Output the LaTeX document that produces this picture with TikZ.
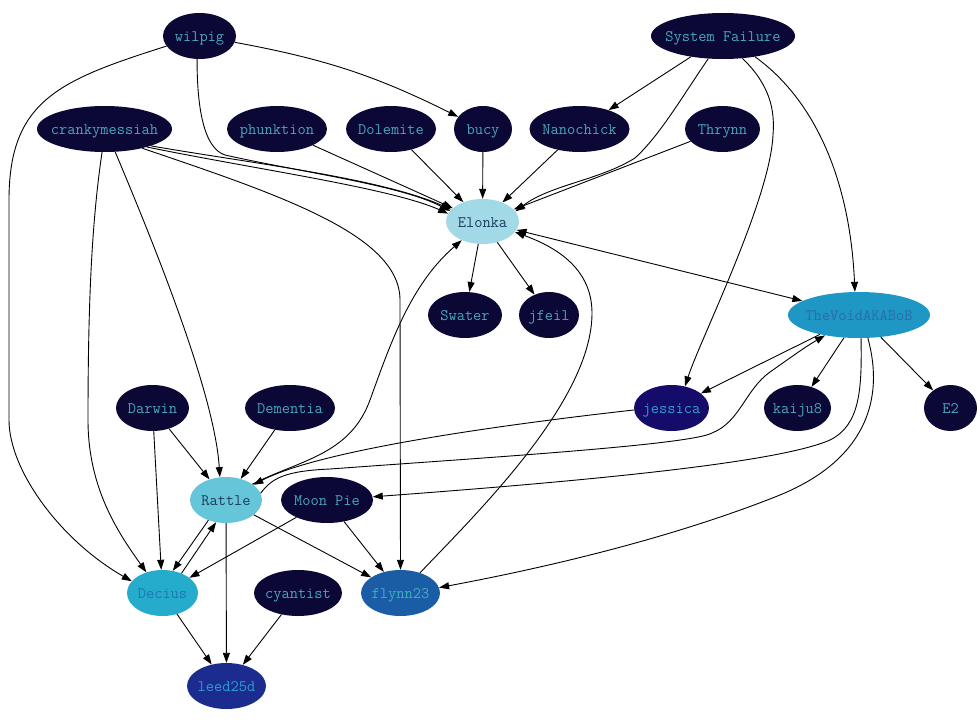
\documentclass[tikz,border=0pt]{standalone}
\usetikzlibrary{shapes.geometric,arrows.meta}
\definecolor{dk}{HTML}{0B0835}
\definecolor{dktx}{HTML}{4AA6BE}
\definecolor{elfill}{HTML}{A1DAE6}
\definecolor{eltx}{HTML}{1C3C5C}
\definecolor{rafill}{HTML}{66C6D9}
\definecolor{ratx}{HTML}{1C3C5C}
\definecolor{defill}{HTML}{25ABCC}
\definecolor{detx}{HTML}{1C78B0}
\definecolor{tvfill}{HTML}{1E97C4}
\definecolor{tvtx}{HTML}{2A6CAC}
\definecolor{jefill}{HTML}{150B6B}
\definecolor{jetx}{HTML}{30A0CC}
\definecolor{flfill}{HTML}{1B5CA7}
\definecolor{fltx}{HTML}{40B0C0}
\definecolor{lefill}{HTML}{1C2C8E}
\definecolor{letx}{HTML}{2A9FD4}
\newcommand{\lbl}[1]{\makebox[0pt]{\raisebox{-5.5pt}[0pt][0pt]{#1}}}
\tikzset{
  nd/.style={ellipse, inner sep=0pt, minimum height=46pt, font=\fontsize{16}{19}\selectfont\ttfamily},
  dark/.style={nd, fill=dk, text=dktx},
  e/.style={-{Triangle[length=10pt,width=7pt]}, line width=0.9pt, black},
  eb/.style={{Triangle[length=10pt,width=7pt]}-{Triangle[length=10pt,width=7pt]}, line width=0.9pt, black}
}
\begin{document}
\begin{tikzpicture}[x=1pt,y=-1pt]
\fill[white] (0,0) rectangle (980,720);
\useasboundingbox (0,0) rectangle (980,720);
% row 1
\node[dark, minimum width=73pt] (wilpig) at (199.5,36) {\lbl{wilpig}};
\node[dark, minimum width=144pt] (sysf) at (723,36) {\lbl{System Failure}};
% row 2
\node[dark, minimum width=135pt] (crank) at (104.5,129) {\lbl{crankymessiah}};
\node[dark, minimum width=100pt] (phunk) at (277,129) {\lbl{phunktion}};
\node[dark, minimum width=90pt] (dole) at (391,129) {\lbl{Dolemite}};
\node[dark, minimum width=58pt] (bucy) at (483,129) {\lbl{bucy}};
\node[dark, minimum width=100pt] (nano) at (579.5,129) {\lbl{Nanochick}};
\node[dark, minimum width=75pt] (thrynn) at (722.5,129) {\lbl{Thrynn}};
% row 3
\node[nd, fill=elfill, text=eltx, minimum width=73pt, minimum height=45pt] (elonka) at (482.5,221.5) {\lbl{Elonka}};
% row 4
\node[dark, minimum width=74pt] (swater) at (465,315) {\lbl{Swater}};
\node[dark, minimum width=60pt] (jfeil) at (549,315) {\lbl{jfeil}};
\node[nd, fill=tvfill, text=tvtx, minimum width=142pt] (tvoid) at (859,315) {\lbl{TheVoidAKABoB}};
% row 5
\node[dark, minimum width=73pt] (darwin) at (152.5,408) {\lbl{Darwin}};
\node[dark, minimum width=90pt] (dementia) at (290,408) {\lbl{Dementia}};
\node[nd, fill=jefill, text=jetx, minimum width=75pt] (jessica) at (671.5,408) {\lbl{jessica}};
\node[dark, minimum width=67pt] (kaiju) at (797.5,408) {\lbl{kaiju8}};
\node[dark, minimum width=53pt] (etwo) at (950.5,408) {\lbl{E2}};
% row 6
\node[nd, fill=rafill, text=ratx, minimum width=72pt] (rattle) at (226,500) {\lbl{Rattle}};
\node[dark, minimum width=92pt] (moonpie) at (327,500) {\lbl{Moon Pie}};
% row 7
\node[nd, fill=defill, text=detx, minimum width=71pt] (decius) at (162.5,593) {\lbl{Decius}};
\node[dark, minimum width=88pt] (cyantist) at (298,593) {\lbl{cyantist}};
\node[nd, fill=flfill, text=fltx, minimum width=79pt] (flynn) at (400.5,593) {\lbl{flynn23}};
% row 8
\node[nd, fill=lefill, text=letx, minimum width=79pt] (leed) at (226.5,686) {\lbl{leed25d}};

% edges from wilpig
\draw[e] (wilpig.197) .. controls (60,80) and (9,100) .. (9,200) -- (9,420) .. controls (9,470) and (60,540) .. (decius.159);
\draw[e] (wilpig.264) .. controls (197,105) and (203,148) .. (225,155) .. controls (300,172) and (400,185) .. (elonka.162);
\draw[e] (wilpig) to[bend left=8] (bucy);
% crankymessiah
\draw[e] (crank.340) .. controls (250,163) and (380,178) .. (elonka.159);
\draw[e] (crank.337) .. controls (260,170) and (390,188) .. (elonka.167);
\draw[e] (crank.333) .. controls (280,195) and (400,235) .. (400,300) -- (flynn.90);
\draw[e] (crank.264) .. controls (92,220) and (88,300) .. (88,420) .. controls (88,490) and (120,535) .. (decius.128);
\draw[e] (crank.295) .. controls (165,270) and (215,400) .. (rattle.105);
% row 2 to Elonka
\draw[e] (phunk) -- (elonka);
\draw[e] (dole) -- (elonka);
\draw[e] (bucy) -- (elonka);
\draw[e] (nano) -- (elonka);
\draw[e] (thrynn) -- (elonka);
% System Failure
\draw[e] (sysf) -- (nano);
\draw[e] (sysf.237) .. controls (680,100) and (660,135) .. (635,158) .. controls (600,180) and (550,185) .. (elonka.17.5);
\draw[e] (sysf.311) .. controls (770,85) and (775,110) .. (773,135) .. controls (770,200) and (700,340) .. (jessica.58);
\draw[e] (sysf.327.5) .. controls (815,100) and (850,180) .. (tvoid.100);
% Elonka
\draw[e] (elonka) -- (swater);
\draw[e] (elonka) -- (jfeil);
\draw[eb] (elonka) -- (tvoid);
% flynn23 -> Elonka
\draw[e] (flynn.46) .. controls (480,510) and (592,400) .. (592,313) .. controls (592,265) and (550,245) .. (elonka.342);
% Rattle -> Elonka
\draw[e] (rattle.31) .. controls (300,460) and (350,455) .. (370,400) .. controls (390,345) and (410,285) .. (elonka.222.5);
% jessica -> Rattle
\draw[e] (jessica.183) .. controls (500,425) and (320,450) .. (rattle.29);
% Rattle -> TheVoid
\draw[e] (rattle.11) .. controls (272,478) and (285,471) .. (330,469) .. controls (480,458) and (690,445) .. (712,433) .. controls (740,422) and (745,390) .. (770,372) .. controls (790,358) and (805,347) .. (tvoid.211);
% TheVoid out
\draw[e] (tvoid.275) .. controls (862,390) and (860,425) .. (830,440) .. controls (780,462) and (600,480) .. (moonpie.4);
\draw[e] (tvoid.291) .. controls (885,400) and (865,460) .. (780,495) .. controls (680,535) and (560,565) .. (flynn.8);
\draw[e] (tvoid) -- (kaiju);
\draw[e] (tvoid) -- (etwo);
\draw[e] (tvoid) -- (jessica);
% lower part
\draw[e] (darwin) -- (rattle);
\draw[e] (darwin) -- (decius);
\draw[e] (dementia) -- (rattle);
\draw[e] (rattle.229) -- (decius.65.5);
\draw[e] (decius.46) -- (rattle.246.5);
\draw[e] (rattle) -- (flynn);
\draw[e] (rattle) -- (leed);
\draw[e] (moonpie) -- (decius);
\draw[e] (moonpie) -- (flynn);
\draw[e] (decius) -- (leed);
\draw[e] (cyantist) -- (leed);
\end{tikzpicture}
\end{document}
